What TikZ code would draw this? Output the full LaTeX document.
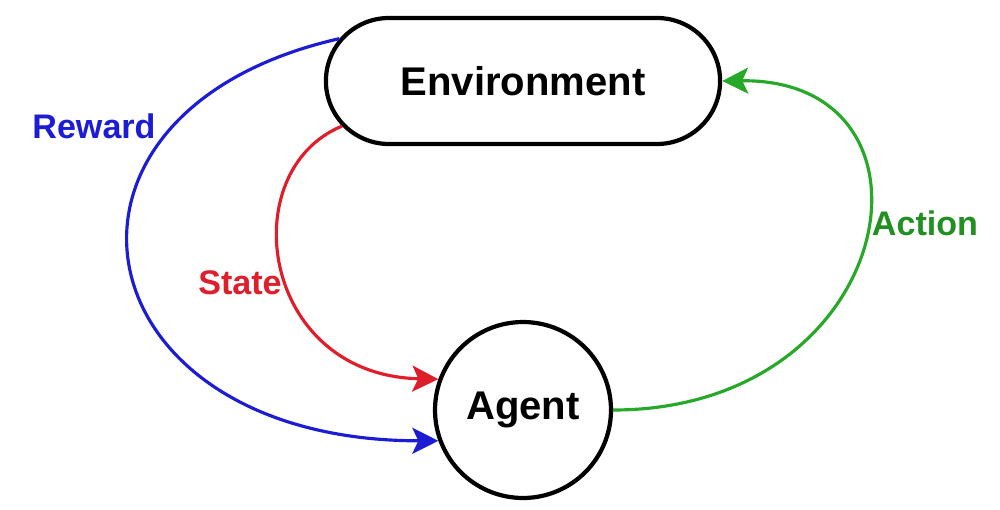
\documentclass[tikz,border=0pt]{standalone}
\usepackage{fontspec}
\setmainfont{Liberation Sans}
\usetikzlibrary{shapes.misc,arrows.meta}
\definecolor{rewardblue}{RGB}{28,28,212}
\definecolor{statered}{RGB}{222,30,42}
\definecolor{actiongreen}{RGB}{40,168,40}
\tikzset{
    envbox/.style={rounded rectangle, draw, line width=2.4pt, fill=white,
        minimum width=8.12cm, minimum height=2.52cm,
        font=\bfseries\fontsize{22.8}{26}\selectfont},
    agentbox/.style={circle, draw, line width=2.4pt, fill=white,
        minimum size=3.52cm, inner sep=0pt,
        font=\bfseries\fontsize{22.8}{26}\selectfont},
    linkarrow/.style={line width=1.8pt, -{Stealth[length=0.52cm,width=0.52cm,inset=0.12cm]}},
    lbl/.style={font=\bfseries\fontsize{19.4}{22}\selectfont, inner sep=0pt},
}
\begin{document}
\begin{tikzpicture}[x=0.02cm, y=-0.02cm]
        \useasboundingbox (0,0) rectangle (1000,510);

        \node[envbox] (env) at (523,81) {Environment};
        \node[agentbox] (agent) at (523,410) {Agent};

        \draw[linkarrow, rewardblue] (env.167) .. controls +(-323,73) and +(-363,0) .. (agent.200);
        \draw[linkarrow, statered] (env.194) .. controls +(-109,45) and +(-178,-4) .. (agent.160);
        \draw[linkarrow, actiongreen] (agent.east) .. controls +(287,0) and +(234,-3) .. (env.east);

        \node[lbl, rewardblue] (rewardlabel) at (94,126) {Reward};
        \node[lbl, statered] (statelabel) at (240,283) {State};
        \node[lbl, actiongreen!85!black] (actionlabel) at (925,223) {Action};
    \end{tikzpicture}
\end{document}
